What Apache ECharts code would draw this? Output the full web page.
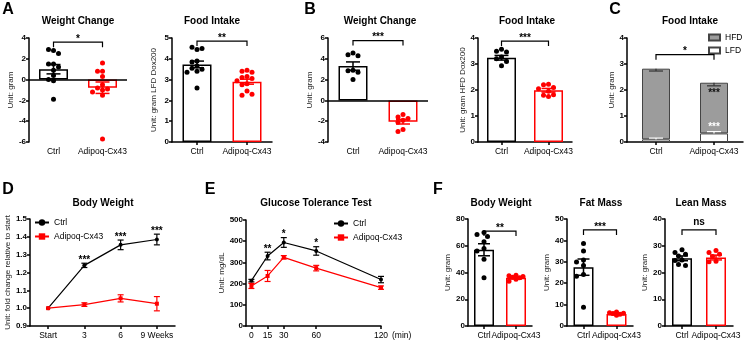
<!DOCTYPE html>
<html>
<head>
<meta charset="utf-8">
<title>Adipoq-Cx43 figure</title>
<script src="https://cdn.jsdelivr.net/npm/echarts@6.0.0/dist/echarts.min.js"></script>
<style>
  html, body { margin: 0; padding: 0; background: #fff; }
  #fig { width: 744px; height: 340px; }
</style>
</head>
<body>
<div id="fig"></div>
<script>
const groups = ['Ctrl', 'Adipoq-Cx43'];

// A: LFD Dox200
const aWeightMean = [1.0, -0.78];
const aWeightSem = [0.45, 0.55];
const aWeightCtrl = [2.8, 2.9, 2.5, 1.5, 1.5, 1.2, 0.9, 0.4, 0.0, -0.1, -1.9];
const aWeightCx43 = [1.6, 0.8, 0.8, 0.3, -0.5, -0.8, -0.9, -1.0, -1.2, -1.5, -5.7];
const aFoodMean = [3.73, 2.9];
const aFoodSem = [0.16, 0.12];
const aFoodCtrl = [4.45, 4.55, 4.5, 3.9, 3.85, 3.65, 3.55, 3.5, 3.4, 3.35, 2.6];
const aFoodCx43 = [3.45, 3.4, 3.35, 3.15, 3.1, 3.05, 2.95, 2.8, 2.75, 2.45, 2.25, 2.3];

// B: HFD Dox200
const bWeightMean = [3.3, -2.05];
const bWeightSem = [0.4, 0.22];
const bWeightCtrl = [4.55, 4.4, 4.3, 2.9, 2.85, 2.7, 2.0];
const bWeightCx43 = [-1.35, -1.6, -1.75, -1.9, -2.1, -2.8, -3.0];
const bFoodMean = [3.24, 1.99];
const bFoodSem = [0.09, 0.07];
const bFoodCtrl = [3.57, 3.49, 3.46, 3.27, 3.2, 3.1, 2.93];
const bFoodCx43 = [2.22, 2.2, 2.1, 2.05, 1.95, 1.8, 1.75, 1.82];

// C: food intake split by diet (stacked)
const cDiets = ['HFD', 'LFD'];
const cLfd = [0.1, 0.33];
const cHfd = [2.72, 1.95];
const cLfdSem = [0.05, 0.07];
const cHfdSem = [0.09, 0.12];
const cHfdStars = ['', '***'];
const cLfdStars = ['', '***'];

// D: body weight fold change
const dWeeks = ['Start', '3', '6', '9 Weeks'];
const dCtrl = [1.0, 1.24, 1.355, 1.385];
const dCtrlSem = [0, 0.012, 0.027, 0.03];
const dCx43 = [1.0, 1.02, 1.055, 1.025];
const dCx43Sem = [0, 0.01, 0.02, 0.04];
const dStars = ['', '***', '***', '***'];

// E: GTT
const eMinutes = [0, 15, 30, 60, 120];
const eCtrl = [214, 330, 394, 354, 219];
const eCtrlSem = [6, 18, 23, 20, 15];
const eCx43 = [189, 236, 324, 273, 181];
const eCx43Sem = [12, 26, 8, 13, 8];
const eStars = ['', '**', '*', '*', ''];

// F: body composition
const fBodyMean = [57, 36];
const fBodySem = [4.5, 0.8];
const fBodyCtrl = [70, 68.5, 67, 63, 58, 56, 50, 36];
const fBodyCx43 = [38, 37.5, 37, 36.5, 36, 35, 33.5];
const fFatMean = [27.5, 5.6];
const fFatSem = [3.8, 0.3];
const fFatCtrl = [38.5, 35, 30.8, 29.9, 28.3, 24.1, 23.3, 8.8];
const fFatCx43 = [6.5, 6.2, 6.0, 5.8, 5.5, 5.0];
const fLeanMean = [25.3, 25.6];
const fLeanSem = [0.9, 0.9];
const fLeanCtrl = [28.5, 27.5, 26.8, 26.2, 24.7, 24.5, 23.0, 22.6];
const fLeanCx43 = [28.2, 27.5, 26.8, 26.0, 24.2, 24.0];

const FONT = 'Liberation Sans, Arial, sans-serif';
const COLORS = ['#000000', '#ff0000'];
const chart = echarts.init(document.getElementById('fig'));

const grid = [], xAxis = [], yAxis = [], series = [];

function lineAxis() {
  return { show: true, onZero: false, lineStyle: { color: '#000', width: 1.5 } };
}

function addGrid(r) {
  grid.push({ left: r[0], top: r[1], width: r[2], height: r[3], containLabel: false, outerBoundsMode: 'none' });
  return grid.length - 1;
}

function addY(g, min, max, interval, name, nameGap, fmt) {
  const ax = {
    gridIndex: g, type: 'value', min: min, max: max, interval: interval,
    axisLine: lineAxis(),
    axisTick: { show: true, length: 3, lineStyle: { color: '#000', width: 1.5 } },
    splitLine: { show: false },
    axisLabel: { color: '#000', fontSize: 8, fontWeight: 'bold', margin: 3 },
    name: name, nameLocation: 'middle', nameGap: nameGap,
    nameTextStyle: { color: '#222', fontSize: 8 }
  };
  if (fmt) ax.axisLabel.formatter = fmt;
  yAxis.push(ax);
}

function addCatX(g, cats, hideLine) {
  xAxis.push({
    gridIndex: g, type: 'category', data: cats,
    axisLine: hideLine ? { show: false } : lineAxis(),
    axisTick: { show: !hideLine, alignWithLabel: true, length: 3, lineStyle: { color: '#000', width: 1.5 } },
    axisLabel: { interval: 0, color: '#000', fontSize: 8.5, margin: 5 },
    splitLine: { show: false }
  });
}

// simple beeswarm: horizontal pixel offsets so dots don't overlap
function swarm(vals, pxPerUnit, maxDx, step, d) {
  const cands = [0];
  for (let s = step; s <= maxDx + 0.01; s += step) cands.push(-s, s);
  const placed = [];
  return vals.map(v => {
    const py = v * pxPerUnit;
    let best = 0, bestGap = -1;
    for (const dx of cands) {
      const gap = placed.reduce((m, p) => Math.min(m, Math.hypot(p[0] - dx, p[1] - py)), 1e9);
      if (gap >= d) { best = dx; bestGap = gap; break; }
      if (gap > bestGap) { bestGap = gap; best = dx; }
    }
    placed.push([best, py]);
    return best;
  });
}

function errorSeries(g, xs, means, errs, colors, cap, lw, dir) {
  // dir: 0 both ways, 1 up only, -1 down only
  return {
    type: 'custom', xAxisIndex: g, yAxisIndex: g, z: 5, silent: true,
    data: means.map((m, i) => [xs[i], m, errs[i]]),
    renderItem(params, api) {
      const x = api.value(0), m = api.value(1), e = api.value(2);
      if (!e) return null;
      const c = colors[params.dataIndex % colors.length];
      const hi = api.coord([x, dir === -1 ? m : m + e]);
      const lo = api.coord([x, dir === 1 ? m : m - e]);
      const kids = [{ type: 'line', shape: { x1: hi[0], y1: hi[1], x2: lo[0], y2: lo[1] }, style: { stroke: c, lineWidth: lw } }];
      if (dir !== -1) kids.push({ type: 'line', shape: { x1: hi[0] - cap, y1: hi[1], x2: hi[0] + cap, y2: hi[1] }, style: { stroke: c, lineWidth: lw } });
      if (dir !== 1) kids.push({ type: 'line', shape: { x1: lo[0] - cap, y1: lo[1], x2: lo[0] + cap, y2: lo[1] }, style: { stroke: c, lineWidth: lw } });
      return { type: 'group', children: kids };
    }
  };
}

function bracketSeries(g, y, text, leg, dy) {
  return {
    type: 'custom', xAxisIndex: g, yAxisIndex: g, z: 6, silent: true,
    data: [[0, y]],
    renderItem(params, api) {
      const a = api.coord([0, api.value(1)]);
      const b = api.coord([1, api.value(1)]);
      return {
        type: 'group', children: [
          { type: 'polyline', shape: { points: [[a[0], a[1] + leg], [a[0], a[1]], [b[0], b[1]], [b[0], b[1] + leg]] },
            style: { stroke: '#000', lineWidth: 1.2, fill: null } },
          { type: 'text', style: { text: text, x: (a[0] + b[0]) / 2, y: a[1] + dy, align: 'center', verticalAlign: 'bottom',
            fill: '#000', font: 'bold 10px ' + FONT } }
        ]
      };
    }
  };
}

function textSeries(g, xs, ys, labels, color, dy, vAlign) {
  return {
    type: 'custom', xAxisIndex: g, yAxisIndex: g, z: 7, silent: true,
    data: xs.map((x, i) => [x, ys[i]]),
    renderItem(params, api) {
      const t = labels[params.dataIndex];
      if (!t) return null;
      const p = api.coord([api.value(0), api.value(1)]);
      return { type: 'text', style: { text: t, x: p[0], y: p[1] + dy, align: 'center', verticalAlign: vAlign,
        fill: color, font: 'bold 10px ' + FONT } };
    }
  };
}

function barPanel(rect, cfg) {
  const g = addGrid(rect);
  addCatX(g, groups, cfg.zeroLine);
  addY(g, cfg.min, cfg.max, cfg.interval, cfg.name, cfg.nameGap);
  const bar = {
    type: 'bar', xAxisIndex: g, yAxisIndex: g, barWidth: cfg.barWidth, z: 1, silent: true,
    data: cfg.mean.map((v, i) => ({ value: v, itemStyle: { borderColor: COLORS[i] } })),
    itemStyle: { color: '#fff', borderWidth: 1.5 }
  };
  if (cfg.zeroLine) {
    bar.markLine = { silent: true, symbol: 'none', label: { show: false },
      lineStyle: { color: '#000', width: 1.5, type: 'solid' }, data: [{ yAxis: 0 }] };
  }
  series.push(bar);
  series.push(errorSeries(g, [0, 1], cfg.mean, cfg.sem, COLORS, cfg.cap, 1.5, 0));
  const ppu = rect[3] / (cfg.max - cfg.min);
  [cfg.ctrl, cfg.cx43].forEach((vals, i) => {
    const offs = swarm(vals, ppu, cfg.spread, cfg.step, 5);
    series.push({
      type: 'scatter', xAxisIndex: g, yAxisIndex: g, z: 4, silent: true, symbolSize: 5,
      itemStyle: { color: COLORS[i], opacity: 1 },
      data: vals.map((v, k) => ({ value: [i, v], symbolOffset: [offs[k], 0] }))
    });
  });
  series.push(bracketSeries(g, cfg.bracket, cfg.sig, 5, cfg.sig === 'ns' ? -3 : 2));
}

// ---- row 1 ----
barPanel([29, 38, 98, 104], { mean: aWeightMean, sem: aWeightSem, ctrl: aWeightCtrl, cx43: aWeightCx43,
  min: -6, max: 4, interval: 2, name: 'Unit: gram', nameGap: 13, zeroLine: true, barWidth: 29, cap: 7,
  spread: 10, step: 5, bracket: 3.6, sig: '*' });
barPanel([172, 38, 100, 104], { mean: aFoodMean, sem: aFoodSem, ctrl: aFoodCtrl, cx43: aFoodCx43,
  min: 0, max: 5, interval: 1, name: 'Unit: gram LFD Dox200', nameGap: 14, zeroLine: false, barWidth: 29, cap: 7,
  spread: 10, step: 5, bracket: 4.85, sig: '**' });
barPanel([328, 38, 100, 104], { mean: bWeightMean, sem: bWeightSem, ctrl: bWeightCtrl, cx43: bWeightCx43,
  min: -4, max: 6, interval: 2, name: 'Unit: gram', nameGap: 10, zeroLine: true, barWidth: 29, cap: 7,
  spread: 10, step: 5, bracket: 5.75, sig: '***' });
barPanel([478, 38, 94, 104], { mean: bFoodMean, sem: bFoodSem, ctrl: bFoodCtrl, cx43: bFoodCx43,
  min: 0, max: 4, interval: 1, name: 'Unit: gram HFD Dox200', nameGap: 11, zeroLine: false, barWidth: 29, cap: 7,
  spread: 10, step: 5, bracket: 3.88, sig: '***' });

// C: stacked HFD / LFD
(function () {
  const g = addGrid([627, 38, 116, 104]);
  addCatX(g, groups, false);
  addY(g, 0, 4, 1, 'Unit: gram', 11);
  series.push({ name: 'LFD', type: 'bar', stack: 'c', xAxisIndex: g, yAxisIndex: g, barWidth: 28, silent: true,
    data: cLfd, itemStyle: { color: '#ffffff', borderColor: '#444', borderWidth: 1 } });
  series.push({ name: 'HFD', type: 'bar', stack: 'c', xAxisIndex: g, yAxisIndex: g, barWidth: 28, silent: true,
    data: cHfd, itemStyle: { color: '#9c9c9c', borderColor: '#444', borderWidth: 1 } });
  const tops = cHfd.map((v, i) => v + cLfd[i]);
  series.push(errorSeries(g, [0, 1], tops, cHfdSem, ['#333'], 7, 1.2, -1));
  series.push(errorSeries(g, [0, 1], cLfd, cLfdSem, ['#ffffff'], 7, 1.2, 1));
  series.push(textSeries(g, [0, 1], tops.map((v, i) => v - cHfdSem[i]), cHfdStars, '#111', 12, 'bottom'));
  series.push(textSeries(g, [0, 1], cLfd.map((v, i) => v + cLfdSem[i]), cLfdStars, '#ffffff', 1, 'bottom'));
  series.push(bracketSeries(g, 3.36, '*', 5, 2));
})();

// ---- row 2 ----
// D: body weight
(function () {
  const g = addGrid([30, 219, 145, 107]);
  addCatX(g, dWeeks, false);
  addY(g, 0.9, 1.5, 0.1, 'Unit: fold change relative to start', 17, v => v.toFixed(1));
  series.push({ name: 'Ctrl', type: 'line', xAxisIndex: g, yAxisIndex: g, data: dCtrl, silent: true, z: 3,
    symbol: 'circle', symbolSize: 4, itemStyle: { color: '#000' }, lineStyle: { color: '#000', width: 1.2 } });
  series.push({ name: 'Adipoq-Cx43', type: 'line', xAxisIndex: g, yAxisIndex: g, data: dCx43, silent: true, z: 3,
    symbol: 'rect', symbolSize: 4, itemStyle: { color: '#ff0000' }, lineStyle: { color: '#ff0000', width: 1.2 } });
  series.push(errorSeries(g, [0, 1, 2, 3], dCtrl, dCtrlSem, ['#000'], 3, 1.2, 0));
  series.push(errorSeries(g, [0, 1, 2, 3], dCx43, dCx43Sem, ['#ff0000'], 3, 1.2, 0));
  series.push(textSeries(g, [0, 1, 2, 3], dCtrl.map((v, i) => v + dCtrlSem[i]), dStars, '#000', 2, 'bottom'));
})();

// E: glucose tolerance test
(function () {
  const g = addGrid([246, 220, 135, 106]);
  xAxis.push({
    gridIndex: g, type: 'value', min: -5, max: 120,
    axisLine: lineAxis(),
    axisTick: { show: true, length: 3, customValues: eMinutes, lineStyle: { color: '#000', width: 1.5 } },
    axisLabel: { customValues: eMinutes, color: '#000', fontSize: 8.5, margin: 5 },
    splitLine: { show: false },
    name: '(min)', nameLocation: 'end', nameGap: 2,
    nameTextStyle: { color: '#000', fontSize: 8.5, verticalAlign: 'top', padding: [5, 0, 0, 0] }
  });
  addY(g, 0, 500, 100, 'Unit: mg/dL', 18);
  series.push({ name: 'Ctrl', type: 'line', xAxisIndex: g, yAxisIndex: g, silent: true, z: 3,
    data: eMinutes.map((m, i) => [m, eCtrl[i]]),
    symbol: 'circle', symbolSize: 4, itemStyle: { color: '#000' }, lineStyle: { color: '#000', width: 1.2 } });
  series.push({ name: 'Adipoq-Cx43', type: 'line', xAxisIndex: g, yAxisIndex: g, silent: true, z: 3,
    data: eMinutes.map((m, i) => [m, eCx43[i]]),
    symbol: 'rect', symbolSize: 4, itemStyle: { color: '#ff0000' }, lineStyle: { color: '#ff0000', width: 1.2 } });
  series.push(errorSeries(g, eMinutes, eCtrl, eCtrlSem, ['#000'], 3, 1.2, 0));
  series.push(errorSeries(g, eMinutes, eCx43, eCx43Sem, ['#ff0000'], 3, 1.2, 0));
  series.push(textSeries(g, eMinutes, eCtrl.map((v, i) => v + eCtrlSem[i]), eStars, '#000', 2, 'bottom'));
})();

// F: body weight / fat / lean
barPanel([468, 219, 64, 107], { mean: fBodyMean, sem: fBodySem, ctrl: fBodyCtrl, cx43: fBodyCx43,
  min: 0, max: 80, interval: 20, name: 'Unit: gram', nameGap: 15, zeroLine: false, barWidth: 20, cap: 6,
  spread: 7, step: 3.5, bracket: 71, sig: '**' });
barPanel([567, 219, 66, 107], { mean: fFatMean, sem: fFatSem, ctrl: fFatCtrl, cx43: fFatCx43,
  min: 0, max: 50, interval: 10, name: 'Unit: gram', nameGap: 13, zeroLine: false, barWidth: 20, cap: 6,
  spread: 7, step: 3.5, bracket: 44.9, sig: '***' });
barPanel([665, 219, 68, 107], { mean: fLeanMean, sem: fLeanSem, ctrl: fLeanCtrl, cx43: fLeanCx43,
  min: 0, max: 40, interval: 10, name: 'Unit: gram', nameGap: 13, zeroLine: false, barWidth: 20, cap: 6,
  spread: 7, step: 3.5, bracket: 35.9, sig: 'ns' });

const legendText = { color: '#000', fontSize: 8.5 };
const legend = [
  { data: ['Ctrl', 'Adipoq-Cx43'], orient: 'vertical', left: 34, top: 218, padding: 0, itemWidth: 14, itemHeight: 8,
    itemGap: 5, selectedMode: false, textStyle: legendText },
  { data: ['Ctrl', 'Adipoq-Cx43'], orient: 'vertical', left: 333, top: 219, padding: 0, itemWidth: 14, itemHeight: 8,
    itemGap: 5, selectedMode: false, textStyle: legendText },
  { data: cDiets, orient: 'vertical', left: 708, top: 33, padding: 0, itemWidth: 11, itemHeight: 6, itemGap: 4,
    icon: 'rect', selectedMode: false, textStyle: legendText }
];

const titles = [
  ['Weight Change', 78, 21], ['Food Intake', 212, 21], ['Weight Change', 380, 21], ['Food Intake', 527, 21],
  ['Food Intake', 690, 21], ['Body Weight', 103, 203], ['Glucose Tolerance Test', 316, 203],
  ['Body Weight', 501, 203], ['Fat Mass', 601, 203], ['Lean Mass', 701, 203]
];
const letters = [['A', 8, 10], ['B', 310, 10], ['C', 615, 10], ['D', 8, 190], ['E', 210, 190], ['F', 438, 190]];

const graphic = titles.map(t => ({
  type: 'text', x: t[1], y: t[2], silent: true,
  style: { text: t[0], align: 'center', verticalAlign: 'middle', font: 'bold 10px ' + FONT, fill: '#000' }
})).concat(letters.map(t => ({
  type: 'text', x: t[1], y: t[2], silent: true,
  style: { text: t[0], align: 'center', verticalAlign: 'middle', font: 'bold 16px ' + FONT, fill: '#000' }
})));

chart.setOption({
  animation: false,
  backgroundColor: '#fff',
  textStyle: { fontFamily: FONT },
  grid: grid, xAxis: xAxis, yAxis: yAxis, series: series,
  legend: legend, graphic: graphic
});
</script>
</body>
</html>
